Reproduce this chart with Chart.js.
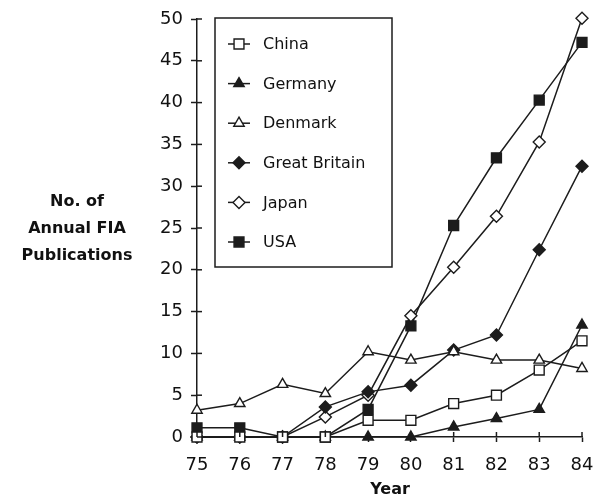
<!DOCTYPE html>
<html>
<head>
<meta charset="utf-8">
<script src="https://cdn.jsdelivr.net/npm/chart.js@4"></script>
<style>
  body { margin:0; background:#fff; }
  #wrap { width:595px; height:499px; }
</style>
</head>
<body>
<div id="wrap"><canvas id="fiaChart" width="595" height="499"></canvas></div>
<script>
// year labels on the x axis
const years = ['75', '76', '77', '78', '79', '80', '81', '82', '83', '84'];

// annual FIA publications per country
const china        = [0, 0, 0, 0, 2, 2, 4, 5, 8, 11.5];
const germany      = [0, 0, 0, 0, 0, 0, 1.2, 2.2, 3.3, 13.4];
const denmark      = [3.2, 4, 6.3, 5.2, 10.2, 9.2, 10.2, 9.2, 9.2, 8.2];
const greatBritain = [0, 0, 0, 3.6, 5.4, 6.2, 10.4, 12.2, 22.4, 32.4];
const japan        = [0, 0, 0, 2.4, 5, 14.5, 20.3, 26.4, 35.3, 50.1];
const usa          = [1.1, 1.1, 0, 0, 3.3, 13.3, 25.3, 33.4, 40.3, 47.2];

const yTicks = [0, 5, 10, 15, 20, 25, 30, 35, 40, 45, 50];

const INK = '#1c1c1c';

function series(label, data, style, filled, radius) {
  return {
    label: label,
    data: data,
    borderColor: INK,
    borderWidth: 1.5,
    pointStyle: style,
    pointRadius: radius,
    pointBorderWidth: 1.4,
    pointBorderColor: INK,
    pointBackgroundColor: filled ? INK : '#fff',
    tension: 0,
    fill: false,
    clip: false
  };
}

const datasets = [
  series('China', china, 'rect', false, 7),
  series('Germany', germany, 'triangle', true, 6),
  series('Denmark', denmark, 'triangle', false, 6),
  series('Great Britain', greatBritain, 'rectRot', true, 6),
  series('Japan', japan, 'rectRot', false, 6),
  series('USA', usa, 'rect', true, 7)
];

// titles, legend box and the inward half of the tick marks
const decorPlugin = {
  id: 'decor',
  afterDraw(chart) {
    const ctx = chart.ctx;
    const xs = chart.scales.x, ys = chart.scales.y;
    const area = chart.chartArea;
    ctx.save();
    ctx.strokeStyle = INK;
    ctx.lineWidth = 1.5;
    // inner tick halves
    ys.ticks.forEach((t, i) => {
      const y = ys.getPixelForTick(i);
      ctx.beginPath(); ctx.moveTo(area.left, y); ctx.lineTo(area.left + 5, y); ctx.stroke();
    });
    xs.ticks.forEach((t, i) => {
      const x = xs.getPixelForTick(i);
      ctx.beginPath(); ctx.moveTo(x, area.bottom); ctx.lineTo(x, area.bottom - 5); ctx.stroke();
    });

    // axis titles
    ctx.fillStyle = '#111';
    ctx.font = 'bold 16px "DejaVu Sans"';
    ctx.textAlign = 'center';
    ctx.textBaseline = 'middle';
    ctx.fillText('No. of', 77, 202);
    ctx.fillText('Annual FIA', 77, 229);
    ctx.fillText('Publications', 77, 256);
    ctx.fillText('Year', 390, 490);

    // legend box
    const bx = 215, by = 18, bw = 177, bh = 249;
    ctx.lineWidth = 1.5;
    ctx.fillStyle = '#fff';
    ctx.fillRect(bx, by, bw, bh);
    ctx.strokeRect(bx, by, bw, bh);
    ctx.font = '16px "DejaVu Sans"';
    ctx.textAlign = 'left';
    chart.data.datasets.forEach((ds, i) => {
      const y = 44 + i * 39.6;
      ctx.strokeStyle = INK;
      ctx.lineWidth = 1.5;
      ctx.beginPath(); ctx.moveTo(228, y); ctx.lineTo(250, y); ctx.stroke();
      ctx.fillStyle = ds.pointBackgroundColor;
      ctx.lineWidth = ds.pointBorderWidth;
      Chart.helpers.drawPoint(ctx, { pointStyle: ds.pointStyle, radius: ds.pointRadius, rotation: 0, borderWidth: ds.pointBorderWidth }, 239, y);
      ctx.fillStyle = '#111';
      ctx.fillText(ds.label, 263, y + 1);
    });
    ctx.restore();
  }
};

new Chart(document.getElementById('fiaChart').getContext('2d'), {
  type: 'line',
  data: { labels: years, datasets: datasets },
  options: {
    responsive: false,
    animation: false,
    devicePixelRatio: 1,
    layout: { padding: { top: 19, right: 13, left: 0, bottom: 0 } },
    plugins: { legend: { display: false }, tooltip: { enabled: false } },
    scales: {
      x: {
        type: 'category',
        offset: false,
        afterFit: s => { s.height = 62; s.paddingLeft = 0; s.paddingRight = 0; },
        grid: { drawOnChartArea: false, tickLength: 5, color: INK, tickWidth: 1.5 },
        border: { color: INK, width: 1.5 },
        ticks: { color: '#111', padding: 13, font: { family: 'DejaVu Sans', size: 18 }, maxRotation: 0 }
      },
      y: {
        min: 0,
        max: 50,
        afterFit: s => { s.width = 197; s.paddingTop = 0; s.paddingBottom = 0; },
        afterBuildTicks: s => { s.ticks = yTicks.map(v => ({ value: v })); },
        grid: { drawOnChartArea: false, tickLength: 6, color: INK, tickWidth: 1.5 },
        border: { color: INK, width: 1.5 },
        ticks: { color: '#111', padding: 8, font: { family: 'DejaVu Sans', size: 18 } }
      }
    }
  },
  plugins: [decorPlugin]
});
</script>
</body>
</html>
